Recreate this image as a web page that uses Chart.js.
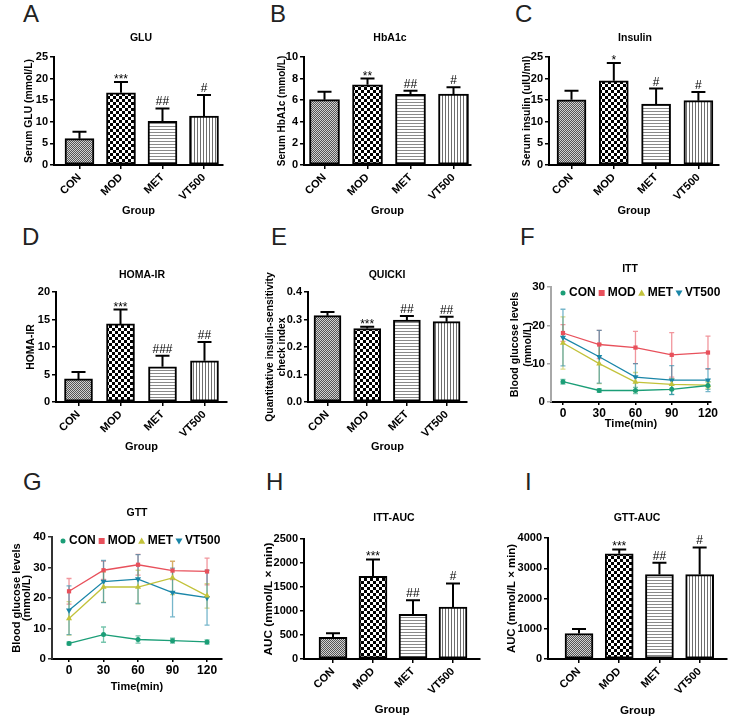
<!DOCTYPE html>
<html>
<head>
<meta charset="utf-8">
<script src="https://cdn.jsdelivr.net/npm/chart.js@4.4.1/dist/chart.umd.min.js"></script>
<style>
  body { margin: 0; background: #fff; }
  #fig { position: relative; width: 734px; height: 724px; overflow: hidden; font-family: Arial, "Liberation Sans", sans-serif; }
  #fig canvas { position: absolute; }
  .letter { position: absolute; font-size: 24px; line-height: 1; color: #222; }
  .title { position: absolute; font-size: 10.5px; font-weight: bold; white-space: nowrap; transform: translate(-50%, -50%); }
</style>
</head>
<body>
<div id="fig"></div>
<script>
// groups on the bar panels
const groups = ["CON", "MOD", "MET", "VT500"];

// A - GLU
const gluMean = [6.1, 16.7, 10.1, 11.3];
const gluErr = [1.6, 2.5, 3.0, 4.9];
const gluMarks = ["", "***", "##", "#"];
const gluTicks = [0, 5, 10, 15, 20, 25];

// B - HbA1c
const hbMean = [6.05, 7.43, 6.54, 6.57];
const hbErr = [0.74, 0.57, 0.34, 0.63];
const hbMarks = ["", "**", "##", "#"];
const hbTicks = [0, 2, 4, 6, 8, 10];

// C - insulin
const insMean = [15.1, 19.5, 14.1, 14.9];
const insErr = [2.1, 4.1, 3.6, 2.0];
const insMarks = ["", "*", "#", "#"];
const insTicks = [0, 5, 10, 15, 20, 25];

// D - HOMA-IR
const homaMean = [4.2, 14.2, 6.4, 7.5];
const homaErr = [1.25, 2.6, 2.0, 3.4];
const homaMarks = ["", "***", "###", "##"];
const homaTicks = [0, 5, 10, 15, 20];

// E - QUICKI
const quickiMean = [0.314, 0.267, 0.298, 0.292];
const quickiErr = [0.013, 0.007, 0.015, 0.018];
const quickiMarks = ["", "***", "##", "##"];
const quickiTicks = [0, 0.1, 0.2, 0.3, 0.4];

// F - ITT
const timePoints = [0, 30, 60, 90, 120];
const ittCon = [5.3, 3.0, 3.0, 3.3, 4.3];
const ittConErr = [0.6, 0.5, 0.8, 1.3, 1.0];
const ittMod = [18.0, 15.0, 14.2, 12.3, 12.9];
const ittModErr = [2.2, 3.7, 4.2, 5.8, 4.3];
const ittMet = [15.4, 10.0, 5.2, 4.6, 4.4];
const ittMetErr = [6.8, 5.2, 2.5, 1.5, 0.8];
const ittVt = [16.8, 11.8, 6.5, 5.7, 5.7];
const ittVtErr = [7.4, 6.9, 3.5, 3.8, 3.0];
const ittTicks = [0, 10, 20, 30];

// G - GTT
const gttCon = [5.1, 8.0, 6.4, 6.0, 5.6];
const gttConErr = [0.5, 2.5, 1.2, 0.8, 0.7];
const gttMod = [22.2, 29.1, 30.9, 29.0, 28.7];
const gttModErr = [4.2, 3.0, 3.4, 3.0, 4.4];
const gttMet = [13.3, 23.6, 23.6, 26.6, 20.7];
const gttMetErr = [5.5, 5.0, 5.5, 5.5, 4.0];
const gttVt = [16.0, 25.4, 26.2, 21.8, 20.1];
const gttVtErr = [8.0, 6.9, 8.0, 8.0, 9.0];
const gttTicks = [0, 10, 20, 30, 40];

// H - ITT-AUC
const ittAucMean = [451, 1720, 930, 1080];
const ittAucErr = [84, 355, 292, 493];
const ittAucMarks = ["", "***", "##", "#"];
const ittAucTicks = [0, 500, 1000, 1500, 2000, 2500];

// I - GTT-AUC
const gttAucMean = [844, 3480, 2790, 2790];
const gttAucErr = [145, 140, 390, 900];
const gttAucMarks = ["", "***", "##", "#"];
const gttAucTicks = [0, 1000, 2000, 3000, 4000];

const FONT = 'Arial, "Liberation Sans", sans-serif';
Chart.defaults.font.family = FONT;
Chart.defaults.color = "#000";

const conColor = "#1b9e77", modColor = "#e8505b", metColor = "#c2c23a", vtColor = "#1a86a8";

// small pattern tiles for the bar fills
function tile(w, h, draw) {
  const c = document.createElement("canvas");
  c.width = w; c.height = h;
  draw(c.getContext("2d"));
  return c;
}
const tiles = [
  tile(2, 2, g => { g.fillStyle = "#d2d2d2"; g.fillRect(0, 0, 2, 2); g.fillStyle = "#555"; g.fillRect(0, 0, 1, 1); g.fillRect(1, 1, 1, 1); }),
  tile(6, 6, g => { g.fillStyle = "#fff"; g.fillRect(0, 0, 6, 6); g.fillStyle = "#000"; g.fillRect(0, 0, 3, 3); g.fillRect(3, 3, 3, 3); }),
  tile(1, 3, g => { g.fillStyle = "#fff"; g.fillRect(0, 0, 1, 3); g.fillStyle = "#8a8a8a"; g.fillRect(0, 0, 1, 1); }),
  tile(3, 1, g => { g.fillStyle = "#fff"; g.fillRect(0, 0, 3, 1); g.fillStyle = "#6e6e6e"; g.fillRect(0, 0, 1, 1); })
];

function drawMarker(ctx, style, rot, x, y, r, color) {
  ctx.fillStyle = color;
  ctx.beginPath();
  if (style === "rect") {
    ctx.rect(x - r, y - r, 2 * r, 2 * r);
  } else if (style === "triangle") {
    const s = rot ? -1 : 1;
    ctx.moveTo(x, y - s * r);
    ctx.lineTo(x + r, y + s * r * 0.75);
    ctx.lineTo(x - r, y + s * r * 0.75);
    ctx.closePath();
  } else {
    ctx.arc(x, y, r, 0, Math.PI * 2);
  }
  ctx.fill();
}

// mean +/- SD bars (bars: upward only, with significance marks)
const errorBars = {
  id: "errorBars",
  beforeDatasetsDraw(chart) {
    if (chart.config.type !== "line") return;
    const ctx = chart.ctx, y = chart.scales.y;
    chart.data.datasets.forEach((ds, di) => {
      const meta = chart.getDatasetMeta(di);
      ctx.save();
      ctx.strokeStyle = ds.errColor;
      ctx.lineWidth = 1.3;
      meta.data.forEach((pt, i) => {
        const v = ds.data[i].y, e = ds.errors[i];
        const y1 = y.getPixelForValue(v - e), y2 = y.getPixelForValue(v + e);
        ctx.beginPath();
        ctx.moveTo(pt.x, y1); ctx.lineTo(pt.x, y2);
        ctx.moveTo(pt.x - 2.5, y1); ctx.lineTo(pt.x + 2.5, y1);
        ctx.moveTo(pt.x - 2.5, y2); ctx.lineTo(pt.x + 2.5, y2);
        ctx.stroke();
      });
      ctx.restore();
    });
  },
  afterDatasetsDraw(chart) {
    if (chart.config.type !== "bar") return;
    const ctx = chart.ctx, y = chart.scales.y;
    chart.data.datasets.forEach((ds, di) => {
      const meta = chart.getDatasetMeta(di);
      ctx.save();
      ctx.strokeStyle = "#000";
      ctx.lineWidth = 2;
      meta.data.forEach((bar, i) => {
        const v = ds.data[i].y, e = ds.errors[i];
        const base = y.getPixelForValue(v), top = y.getPixelForValue(v + e);
        ctx.beginPath();
        ctx.moveTo(bar.x, base); ctx.lineTo(bar.x, top);
        ctx.moveTo(bar.x - 7, top); ctx.lineTo(bar.x + 7, top);
        ctx.stroke();
        const m = ds.marks[i];
        if (m) {
          ctx.fillStyle = "#000";
          ctx.font = "12px " + FONT;
          ctx.textAlign = "center";
          ctx.textBaseline = "alphabetic";
          ctx.fillText(m, bar.x, m[0] === "*" ? top + 1 : top - 3);
        }
      });
      ctx.restore();
    });
  }
};

// legend drawn inside the plot, along its top edge
const insideLegend = {
  id: "insideLegend",
  afterDraw(chart, args, opts) {
    if (!opts || !opts.show) return;
    const ctx = chart.ctx;
    let x = chart.chartArea.left + opts.dx;
    const y = chart.chartArea.top + opts.dy;
    ctx.save();
    ctx.font = "bold 12px " + FONT;
    ctx.textBaseline = "middle";
    ctx.textAlign = "left";
    chart.data.datasets.forEach(ds => {
      drawMarker(ctx, ds.pointStyle, ds.pointRotation, x, y, ds.pointRadius, ds.borderColor);
      x += 6;
      ctx.fillStyle = "#000";
      ctx.fillText(ds.label, x, y);
      x += ctx.measureText(ds.label).width + 6;
    });
    ctx.restore();
  }
};

const fig = document.getElementById("fig");

function makeChart(p) {
  const ySize = p.yTitleSize, yLH = p.yTitleLH || 1.2;
  const xSize = p.xTitleSize || 11;
  const a = p.area;
  const titleLeft = p.yTitleX - ySize * yLH / 2;
  const padTop = 30;
  const bx = Math.floor(titleLeft) - 2, by = a.t - padTop;
  const bw = a.r + 14 - bx;
  const bh = Math.round(p.xTitleY + xSize * 1.2 / 2) - by;
  const cv = document.createElement("canvas");
  cv.width = bw; cv.height = bh;
  cv.style.left = bx + "px"; cv.style.top = by + "px";
  fig.appendChild(cv);
  const ctx = cv.getContext("2d");

  const isBar = p.type === "bar";
  let datasets;
  if (isBar) {
    datasets = [{
      data: p.mean.map((v, i) => ({ x: i, y: v })),
      errors: p.err,
      marks: p.marks,
      backgroundColor: tiles.map(t => ctx.createPattern(t, "repeat")),
      borderColor: "#000",
      borderWidth: 2,
      borderSkipped: false,
      barThickness: p.bar
    }];
  } else {
    datasets = p.series.map(s => ({
      label: s.label,
      data: timePoints.map((t, i) => ({ x: t, y: s.data[i] })),
      errors: s.err,
      borderColor: s.color,
      backgroundColor: s.color,
      errColor: s.color + "99",
      borderWidth: 1.3,
      pointStyle: s.style,
      pointRotation: s.rot,
      pointRadius: s.r,
      pointBorderWidth: 0,
      tension: 0
    }));
  }

  const yTicks = p.yTicks;
  const xTickVals = isBar ? groups.map((g, i) => i) : timePoints;
  const yBorder = p.yBorder || "#000";

  new Chart(cv, {
    type: p.type,
    data: { datasets },
    options: {
      responsive: false,
      animation: false,
      devicePixelRatio: 1,
      layout: { padding: { left: titleLeft - bx, top: padTop, right: 14, bottom: 0 } },
      plugins: {
        legend: { display: false },
        tooltip: { enabled: false },
        insideLegend: p.legend || { show: false }
      },
      scales: {
        x: {
          type: "linear",
          min: p.xMin,
          max: p.xMax,
          offset: false,
          afterBuildTicks: s => { s.ticks = xTickVals.map(v => ({ value: v })); },
          afterFit: s => { s.height = by + bh - a.b; },
          border: { color: "#000", width: 2 },
          grid: { drawOnChartArea: false, offset: false, tickLength: isBar ? 4 : 3, color: "#000", lineWidth: 1.5 },
          ticks: {
            autoSkip: false,
            minRotation: isBar ? 45 : 0,
            maxRotation: isBar ? 45 : 0,
            padding: isBar ? 2 : 1,
            font: { size: isBar ? 11 : 12, weight: "bold" },
            callback: v => isBar ? groups[v] : String(v)
          },
          title: { display: true, text: p.xTitle, padding: 0, font: { size: xSize, weight: "bold" } }
        },
        y: {
          min: yTicks[0],
          max: yTicks[yTicks.length - 1],
          afterBuildTicks: s => { s.ticks = yTicks.map(v => ({ value: v })); },
          afterFit: s => { s.width = a.l - titleLeft; },
          border: { color: yBorder, width: 2 },
          grid: { drawOnChartArea: false, tickLength: 4, color: yBorder, lineWidth: 1.5 },
          ticks: {
            padding: 2,
            font: { size: isBar ? 11 : 11.5, weight: "bold" },
            callback: v => p.fmt ? p.fmt(v) : String(v)
          },
          title: { display: true, text: p.yTitle, padding: 0, font: { size: ySize, weight: "bold", lineHeight: yLH } }
        }
      }
    },
    plugins: [errorBars, insideLegend]
  });
}

const seriesStyle = [
  { label: "CON", color: conColor, style: "circle", rot: 0, r: 2.5 },
  { label: "MOD", color: modColor, style: "rect", rot: 0, r: 3 },
  { label: "MET", color: metColor, style: "triangle", rot: 0, r: 3.5 },
  { label: "VT500", color: vtColor, style: "triangle", rot: 180, r: 3.5 }
];
function lineSeries(vals, errs) {
  return seriesStyle.map((s, i) => Object.assign({}, s, { data: vals[i], err: errs[i] }));
}

makeChart({ type: "bar", area: { l: 54, t: 57, r: 223, b: 165 }, xMin: -0.614, xMax: 3.458, bar: 29,
  yTitle: "Serum GLU (mmol/L)", yTitleX: 29, yTitleSize: 10.4, xTitle: "Group", xTitleY: 211,
  yTicks: gluTicks, mean: gluMean, err: gluErr, marks: gluMarks });
makeChart({ type: "bar", area: { l: 304, t: 57, r: 471, b: 165 }, xMin: -0.477, xMax: 3.407, bar: 30,
  yTitle: "Serum HbA1c (mmol/L)", yTitleX: 282, yTitleSize: 10, xTitle: "Group", xTitleY: 211,
  yTicks: hbTicks, mean: hbMean, err: hbErr, marks: hbMarks });
makeChart({ type: "bar", area: { l: 549, t: 57, r: 719, b: 165 }, xMin: -0.532, xMax: 3.487, bar: 29,
  yTitle: "Serum insulin (uIU/ml)", yTitleX: 527, yTitleSize: 10.4, xTitle: "Group", xTitleY: 211,
  yTicks: insTicks, mean: insMean, err: insErr, marks: insMarks });
makeChart({ type: "bar", area: { l: 56, t: 292, r: 227, b: 402 }, xMin: -0.536, xMax: 3.536, bar: 28,
  yTitle: "HOMA-IR", yTitleX: 31, yTitleSize: 10.4, xTitle: "Group", xTitleY: 447,
  yTicks: homaTicks, mean: homaMean, err: homaErr, marks: homaMarks });
makeChart({ type: "bar", area: { l: 308, t: 292, r: 467, b: 402 }, xMin: -0.491, xMax: 3.514, bar: 27,
  yTitle: ["Quantitative insulin-sensitivity", "check index"], yTitleX: 270, yTitleSize: 10.3, yTitleLH: 1.17,
  xTitle: "Group", xTitleY: 447, yTicks: quickiTicks, mean: quickiMean, err: quickiErr, marks: quickiMarks,
  fmt: v => v.toFixed(1) });
makeChart({ type: "line", area: { l: 551, t: 287, r: 711, b: 402 }, xMin: -9.9, xMax: 122.5,
  yTitle: ["Blood glucose levels", "(mmol/L)"], yTitleX: 515, yTitleSize: 10.6, yTitleLH: 1.22,
  xTitle: "Time(min)", xTitleY: 424, yTicks: ittTicks, yBorder: "#a8a8a8",
  series: lineSeries([ittCon, ittMod, ittMet, ittVt], [ittConErr, ittModErr, ittMetErr, ittVtErr]),
  legend: { show: true, dx: 12, dy: 6 } });
makeChart({ type: "line", area: { l: 52, t: 537, r: 222, b: 659 }, xMin: -14.8, xMax: 133,
  yTitle: ["Blood glucose levels", "(mmol/L)"], yTitleX: 17, yTitleSize: 11, yTitleLH: 0.95,
  xTitle: "Time(min)", xTitleY: 687, yTicks: gttTicks, yBorder: "#333",
  series: lineSeries([gttCon, gttMod, gttMet, gttVt], [gttConErr, gttModErr, gttMetErr, gttVtErr]),
  legend: { show: true, dx: 11, dy: 4 } });
makeChart({ type: "bar", area: { l: 304, t: 539, r: 480, b: 659 }, xMin: -0.725, xMax: 3.675, bar: 28,
  yTitle: "AUC (mmol/L \u00d7 min)", yTitleX: 269, yTitleSize: 11.8, xTitle: "Group", xTitleSize: 11.7, xTitleY: 710,
  yTicks: ittAucTicks, mean: ittAucMean, err: ittAucErr, marks: ittAucMarks });
makeChart({ type: "bar", area: { l: 548, t: 538, r: 727, b: 659 }, xMin: -0.771, xMax: 3.68, bar: 28,
  yTitle: "AUC (mmol/L \u00d7 min)", yTitleX: 512, yTitleSize: 11.4, xTitle: "Group", xTitleSize: 11.7, xTitleY: 711,
  yTicks: gttAucTicks, mean: gttAucMean, err: gttAucErr, marks: gttAucMarks });

// panel letters and titles
const letters = [["A", 23, 2], ["B", 270, 2], ["C", 515, 2], ["D", 22, 225], ["E", 271, 225],
  ["F", 520, 225], ["G", 23, 470], ["H", 266, 470], ["I", 525, 470]];
const titles = [["GLU", 141, 37], ["HbA1c", 390, 37], ["Insulin", 635, 37], ["HOMA-IR", 142, 274],
  ["QUICKI", 387, 274], ["ITT", 630, 268], ["GTT", 137, 512], ["ITT-AUC", 394, 517], ["GTT-AUC", 637, 517]];
letters.forEach(([t, x, y]) => {
  const d = document.createElement("div");
  d.className = "letter"; d.textContent = t;
  d.style.left = x + "px"; d.style.top = y + "px";
  fig.appendChild(d);
});
titles.forEach(([t, x, y]) => {
  const d = document.createElement("div");
  d.className = "title"; d.textContent = t;
  d.style.left = x + "px"; d.style.top = y + "px";
  fig.appendChild(d);
});
</script>
</body>
</html>
